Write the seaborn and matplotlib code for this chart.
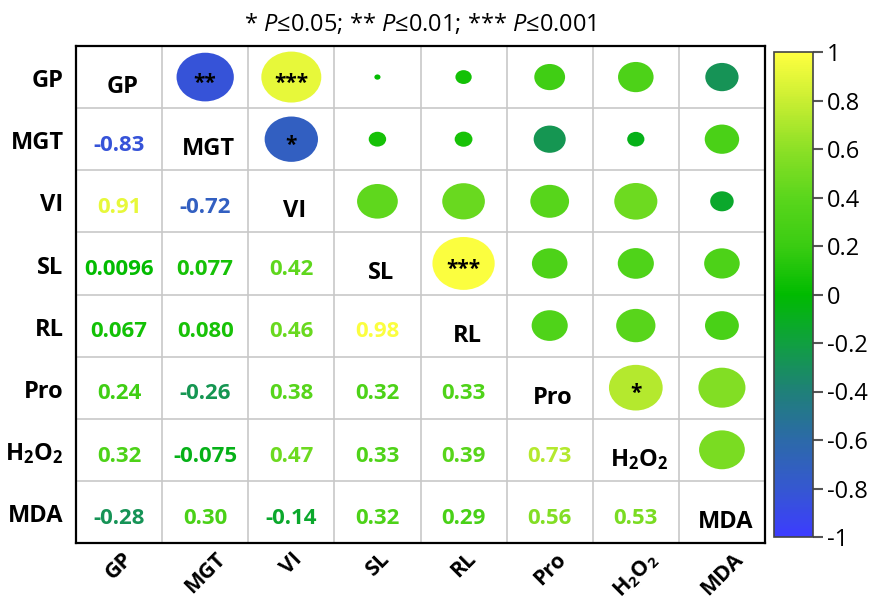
import numpy as np
import matplotlib
matplotlib.use("Agg")
import matplotlib.pyplot as plt
from matplotlib.colors import LinearSegmentedColormap, Normalize
from matplotlib.patches import Ellipse
from matplotlib.transforms import ScaledTranslation
import seaborn as sns

# Variables and their pairwise correlation coefficients (lower triangle, row by row)
labels = ["GP", "MGT", "VI", "SL", "RL", "Pro", "H2O2", "MDA"]
tick_text = ["GP", "MGT", "VI", "SL", "RL", "Pro", r"$\mathbf{H_2O_2}$", "MDA"]
row_gp = []
row_mgt = [-0.83]
row_vi = [0.91, -0.72]
row_sl = [0.0096, 0.077, 0.42]
row_rl = [0.067, 0.080, 0.46, 0.98]
row_pro = [0.24, -0.26, 0.38, 0.32, 0.33]
row_h2o2 = [0.32, -0.075, 0.47, 0.33, 0.39, 0.73]
row_mda = [-0.28, 0.30, -0.14, 0.32, 0.29, 0.56, 0.53]
value_text = {
    (1, 0): "-0.83", (2, 0): "0.91", (2, 1): "-0.72",
    (3, 0): "0.0096", (3, 1): "0.077", (3, 2): "0.42",
    (4, 0): "0.067", (4, 1): "0.080", (4, 2): "0.46", (4, 3): "0.98",
    (5, 0): "0.24", (5, 1): "-0.26", (5, 2): "0.38", (5, 3): "0.32", (5, 4): "0.33",
    (6, 0): "0.32", (6, 1): "-0.075", (6, 2): "0.47", (6, 3): "0.33", (6, 4): "0.39", (6, 5): "0.73",
    (7, 0): "-0.28", (7, 1): "0.30", (7, 2): "-0.14", (7, 3): "0.32", (7, 4): "0.29", (7, 5): "0.56", (7, 6): "0.53",
}
# significance marks for pairs (row, col) in the upper triangle
signif = {(0, 1): "**", (0, 2): "***", (1, 2): "*", (3, 4): "***", (5, 6): "*"}

rows = [row_gp, row_mgt, row_vi, row_sl, row_rl, row_pro, row_h2o2, row_mda]
n = len(labels)
corr = np.eye(n)
for i, r in enumerate(rows):
    for j, v in enumerate(r):
        corr[i, j] = v
        corr[j, i] = v

sns.set_theme(style="white")
plt.rcParams["font.family"] = ["Open Sans", "DejaVu Sans"]
plt.rcParams["text.color"] = "black"
plt.rcParams["mathtext.fontset"] = "custom"
plt.rcParams["mathtext.rm"] = "Open Sans"
plt.rcParams["mathtext.it"] = "Open Sans:italic"
plt.rcParams["mathtext.bf"] = "Open Sans:bold"

cmap = LinearSegmentedColormap.from_list(
    "bgy",
    [(0.0, "#3c3cff"), (0.1, "#3558d0"), (0.2, "#2c6aa8"), (0.3, "#1f8078"),
     (0.4, "#10a040"), (0.5, "#00bb00"), (0.6, "#3acc12"), (0.7, "#5ad61c"),
     (0.8, "#8ce026"), (0.9, "#c8ee32"), (1.0, "#ffff40")],
)
norm = Normalize(-1, 1)

fig = plt.figure(figsize=(8.72, 6.03), dpi=100)
ax = fig.add_axes([76 / 872, 60 / 603, 689 / 872, 497 / 603])
cax = fig.add_axes([774 / 872, 66 / 603, 39 / 872, 485 / 603])

sns.heatmap(corr, mask=np.ones_like(corr, dtype=bool), cmap=cmap, vmin=-1, vmax=1,
            ax=ax, cbar_ax=cax, square=False)

# cell grid
for k in range(1, n):
    ax.axhline(k, color="#c8c8c8", lw=1.2, zorder=1)
    ax.axvline(k, color="#c8c8c8", lw=1.2, zorder=1)
for s in ax.spines.values():
    s.set_visible(True)
    s.set_color("black")
    s.set_linewidth(1.6)

for i in range(n):
    for j in range(n):
        v = corr[i, j]
        if i == j:
            ax.text(j + 0.54, i + 0.66, tick_text[i], ha="center", va="center",
                    fontsize=17, fontweight="bold", color="black", zorder=3)
        elif i > j:
            ax.text(j + 0.5, i + 0.6, value_text[(i, j)], ha="center", va="center",
                    fontsize=16, fontweight="bold", color=cmap(norm(v)), zorder=3)
        else:
            s = np.sqrt(abs(v))
            ax.add_patch(Ellipse((j + 0.5, i + 0.5), 0.73 * s, 0.86 * s,
                                 facecolor=cmap(norm(v)), edgecolor="none", zorder=2))
            if (i, j) in signif:
                ax.text(j + 0.5, i + 0.6, signif[(i, j)], ha="center", va="center",
                        fontsize=15, fontweight="bold", color="black", zorder=3)

ax.set_xticks(np.arange(n) + 0.5)
ax.set_yticks(np.arange(n) + 0.5)
ax.set_xticklabels(tick_text, rotation=45, ha="center", va="top",
                   fontsize=15.5, fontweight="bold")
ax.set_yticklabels(tick_text, rotation=0, ha="right", va="center",
                   fontsize=17, fontweight="bold")
ax.tick_params(axis="x", length=0, pad=4, colors="black")
ax.tick_params(axis="y", length=0, pad=9, colors="black")
shift = ScaledTranslation(0, -3 / 72, fig.dpi_scale_trans)
for t in ax.get_yticklabels():
    t.set_transform(t.get_transform() + shift)
ax.set_xlim(0, n)
ax.set_ylim(n, 0)

cax.set_yticks(np.arange(-1, 1.01, 0.2))
cax.set_yticklabels(["-1", "-0.8", "-0.6", "-0.4", "-0.2", "0", "0.2", "0.4", "0.6", "0.8", "1"])
cax.tick_params(axis="y", length=7, width=1.5, color="#555555", labelsize=17, pad=3,
                labelcolor="black")
cb = ax.collections[0].colorbar
cb.outline.set_visible(True)
cb.outline.set_edgecolor("#444444")
cb.outline.set_linewidth(1.2)

fig.text(420 / 872, 1 - 25 / 603,
         r"* $\mathit{P}$≤0.05; ** $\mathit{P}$≤0.01; *** $\mathit{P}$≤0.001",
         ha="center", va="center", fontsize=17, color="black")

fig.savefig("out.png", dpi=100)
